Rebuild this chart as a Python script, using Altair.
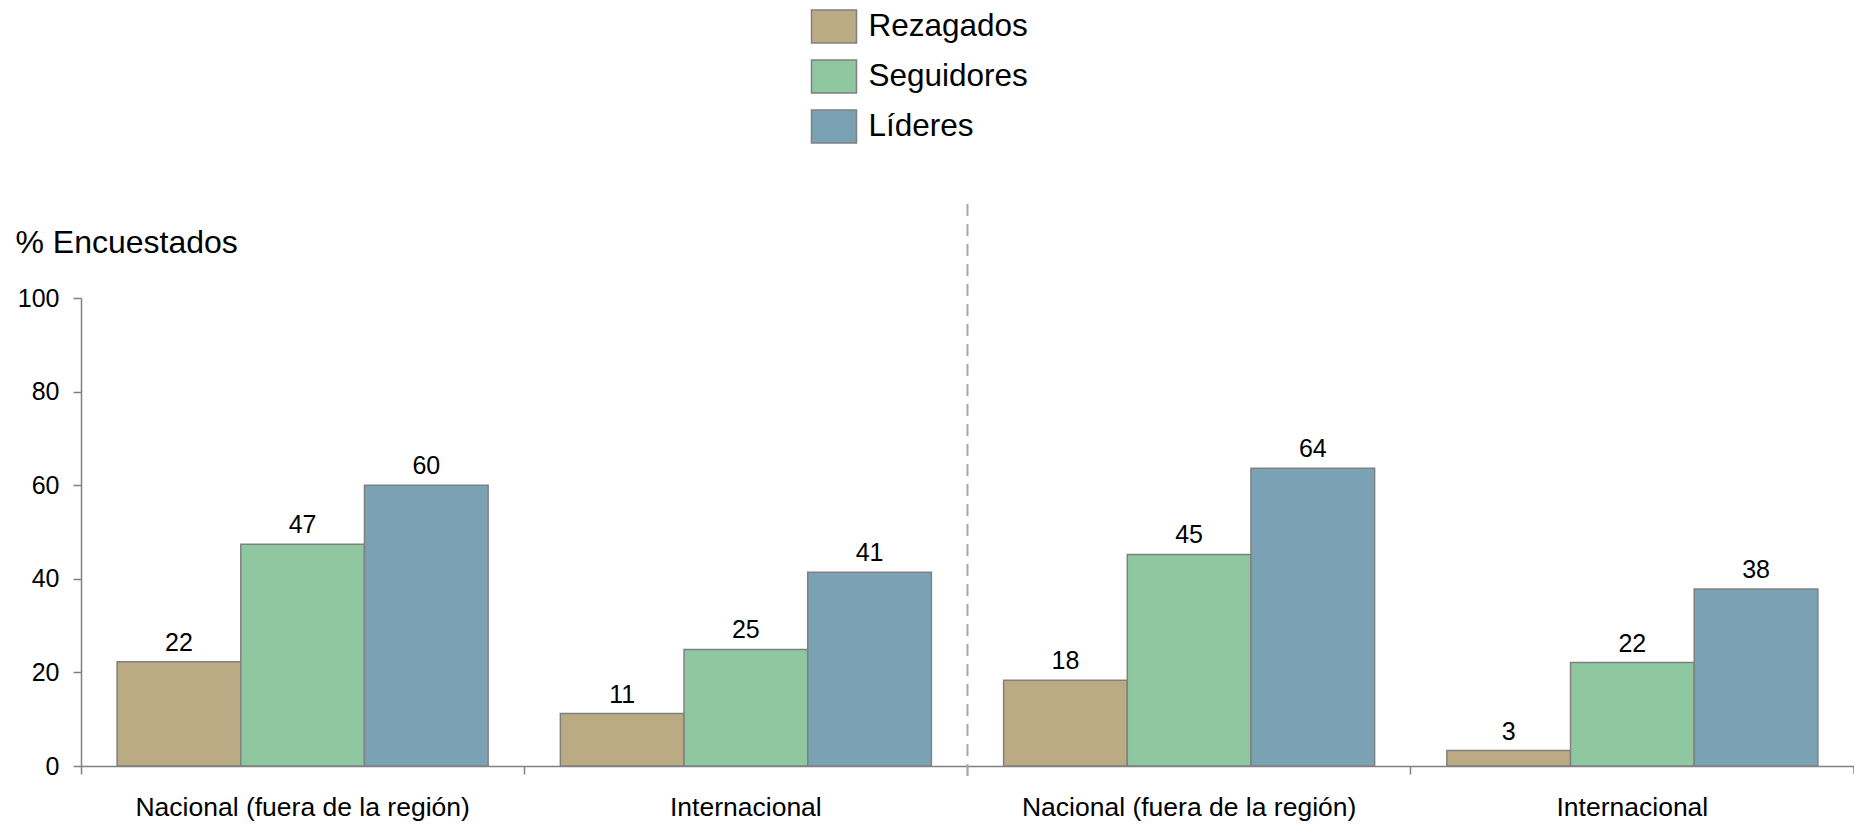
import altair as alt
import pandas as pd

# ---- data ----
group_keys = ["g1", "g2", "g3", "g4"]
group_labels = ["Nacional (fuera de la región)", "Internacional",
                "Nacional (fuera de la región)", "Internacional"]
series = ["Rezagados", "Seguidores", "Líderes"]
rezagados = [22.3, 11.2, 18.3, 3.3]
seguidores = [47.4, 24.9, 45.2, 22.1]
lideres = [60.0, 41.4, 63.6, 37.8]
colors = ["#BAAB85", "#8EC7A0", "#7AA2B4"]
y_ticks = [0, 20, 40, 60, 80, 100]
separator_after = ["g2"]
axis_end = ["g4"]

rows = []
for s, vals in zip(series, [rezagados, seguidores, lideres]):
    for k, v in zip(group_keys, vals):
        rows.append({"grupo": k, "serie": s, "valor": v})
df = pd.DataFrame(rows)

FONT = "Liberation Sans"
GRAY = "#808080"
W, H = 1773, 468

keys_js = "[" + ",".join(f"'{k}'" for k in group_keys) + "]"
labels_js = "[" + ",".join(f"'{l}'" for l in group_labels) + "]"
label_expr = f"{labels_js}[indexof({keys_js}, datum.value)]"

x_enc = alt.X(
    "grupo:N",
    sort=group_keys,
    scale=alt.Scale(domain=group_keys, paddingInner=0, paddingOuter=0),
    axis=alt.Axis(
        title=None, labelAngle=0, bandPosition=0, labelLimit=0,
        labelExpr=label_expr, labelFont=FONT, labelFontSize=26.5,
        labelColor="black", labelPadding=20, tickSize=8, tickColor=GRAY,
        tickWidth=1.5, domainColor=GRAY, domainWidth=1.5,
    ),
)
y_enc = alt.Y(
    "valor:Q",
    scale=alt.Scale(domain=[0, 100], nice=False),
    axis=alt.Axis(
        values=y_ticks, title="% Encuestados", titleAngle=0, titleAlign="left",
        titleBaseline="alphabetic", titleX=-66, titleY=-46, titleFont=FONT,
        titleFontSize=32, titleFontWeight="normal", titleColor="black",
        labelFont=FONT, labelFontSize=25, labelColor="black", labelPadding=14,
        tickSize=8, tickColor=GRAY, tickWidth=1.5, domainColor=GRAY,
        domainWidth=1.5, grid=False,
    ),
)
xoff = alt.XOffset("serie:N", sort=series,
                   scale=alt.Scale(domain=series, paddingInner=0, paddingOuter=0.292))

bars = alt.Chart(df).mark_bar(stroke=GRAY, strokeWidth=1.5).encode(
    x=x_enc,
    y=y_enc,
    xOffset=xoff,
    color=alt.Color(
        "serie:N",
        sort=series,
        scale=alt.Scale(domain=series, range=colors),
        legend=alt.Legend(
            title=None, orient="none", legendX=729.5, legendY=-295, padding=0,
            symbolType="M-1,-0.73L1,-0.73L1,0.73L-1,0.73Z", symbolSize=2025,
            symbolStrokeColor=GRAY, symbolStrokeWidth=1.5, symbolOpacity=1,
            labelFont=FONT, labelFontSize=31.5, labelColor="black",
            labelOffset=11, rowPadding=7, labelLimit=0,
        ),
    ),
)

labels = alt.Chart(df).mark_text(
    font=FONT, fontSize=25, color="black", baseline="alphabetic", dy=-11
).encode(
    x=alt.X("grupo:N", sort=group_keys),
    y="valor:Q",
    xOffset=alt.XOffset("serie:N", sort=series),
    text=alt.Text("valor:Q", format=".0f"),
)

sep = alt.Chart(pd.DataFrame({"grupo": separator_after})).mark_rule(
    color="#A8A8A8", strokeWidth=2, strokeDash=[12, 8]
).encode(
    x=alt.X("grupo:N", bandPosition=1),
    y=alt.value(-94),
    y2=alt.value(H + 12),
)

end_tick = alt.Chart(pd.DataFrame({"grupo": axis_end})).mark_rule(
    color=GRAY, strokeWidth=1.5
).encode(
    x=alt.X("grupo:N", bandPosition=1),
    y=alt.value(H),
    y2=alt.value(H + 8),
)

chart = alt.layer(bars, labels, sep, end_tick).properties(
    width=W, height=H,
    autosize=alt.AutoSizeParams(type="none"),
    padding={"left": 73, "top": 290, "right": 0, "bottom": 55},
).configure_view(stroke=None)

chart.save("out.html", embed_options={"renderer": "svg", "actions": False})
